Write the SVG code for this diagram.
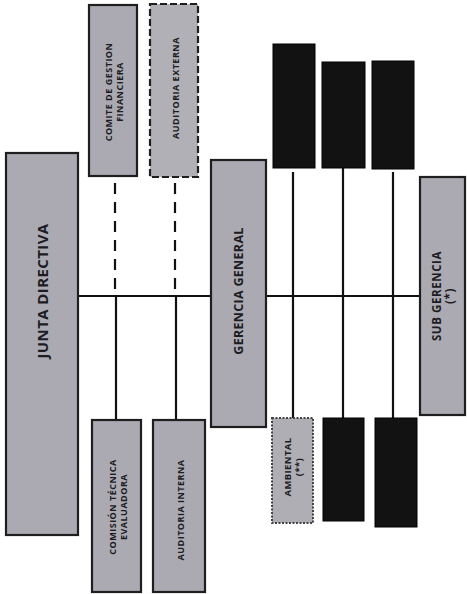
<svg xmlns="http://www.w3.org/2000/svg" width="467" height="594" viewBox="0 0 467 594">
<style>
.box{fill:#abaab2;stroke:#1e1e1e;stroke-width:2.2}
.dash{fill:#b1b0b7;stroke:#1e1e1e;stroke-width:2.2;stroke-dasharray:7 3}
.amb{fill:#afaeb5;stroke:#444;stroke-width:2;stroke-dasharray:2 1.5}
.blk{fill:#121212;stroke:#000;stroke-width:1}
.t{font-family:"Open Sans","DejaVu Sans",sans-serif;font-weight:bold;fill:#1c1c22;text-anchor:middle;dominant-baseline:central}
.ln{stroke:#111;stroke-width:2.2;fill:none}
.dl{stroke:#111;stroke-width:2.2;fill:none;stroke-dasharray:11 8}
</style>
<rect width="467" height="594" fill="#ffffff"/>
<g id="connectors">
<line class="ln" x1="78" y1="296" x2="420" y2="296"/>
<line class="dl" x1="115" y1="183" x2="115" y2="296"/>
<line class="dl" x1="175" y1="183" x2="175" y2="296"/>
<line class="ln" x1="116" y1="296" x2="116" y2="420"/>
<line class="ln" x1="176" y1="296" x2="176" y2="420"/>
<line class="ln" x1="293" y1="172" x2="293" y2="418"/>
<line class="ln" x1="343" y1="168" x2="343" y2="418"/>
<line class="ln" x1="393" y1="172" x2="393" y2="418"/>
</g>
<g id="junta">
<rect class="box" x="6" y="153" width="72" height="382"/>
<text class="t" font-size="15" letter-spacing="0.4" transform="rotate(-90 42 291)" x="42" y="291">JUNTA  DIRECTIVA</text>
</g>
<g id="comite">
<rect class="box" x="89" y="5" width="48" height="171"/>
<text class="t" font-size="9" letter-spacing="0.5" transform="rotate(-90 113 92)" x="113" y="92"><tspan x="113" dy="-5.5">COMITE DE GESTION</tspan><tspan x="113" dy="11">FINANCIERA</tspan></text>
</g>
<g id="auditoria-externa">
<rect class="dash" x="150" y="4" width="48" height="173"/>
<text class="t" font-size="9" letter-spacing="0.5" transform="rotate(-90 175 88)" x="175" y="88">AUDITORIA  EXTERNA</text>
</g>
<g id="comision">
<rect class="box" x="92" y="420" width="49" height="172"/>
<text class="t" font-size="9" letter-spacing="0.5" transform="rotate(-90 117 507)" x="117" y="507"><tspan x="117" dy="-5.5">COMISIÓN  TÉCNICA</tspan><tspan x="117" dy="11">EVALUADORA</tspan></text>
</g>
<g id="auditoria-interna">
<rect class="box" x="153" y="420" width="52" height="172"/>
<text class="t" font-size="9" letter-spacing="0.5" transform="rotate(-90 180 510)" x="180" y="510">AUDITORIA  INTERNA</text>
</g>
<g id="gerencia">
<rect class="box" x="211" y="160" width="55" height="267"/>
<text class="t" font-size="12.5" letter-spacing="0.3" transform="rotate(-90 238 291)" x="238" y="291">GERENCIA GENERAL</text>
</g>
<g id="subgerencia">
<rect class="box" x="420" y="177" width="45" height="238"/>
<text class="t" font-size="11.5" letter-spacing="0.6" transform="rotate(-90 442 296)" x="442" y="296"><tspan x="442" dy="-6">SUB GERENCIA</tspan><tspan x="442" dy="13">(*)</tspan></text>
</g>
<g id="top-black-1"><rect class="blk" x="273" y="44" width="42" height="124"/></g>
<g id="top-black-2"><rect class="blk" x="322" y="62" width="43" height="106"/></g>
<g id="top-black-3"><rect class="blk" x="372" y="61" width="42" height="108"/></g>
<g id="ambiental">
<rect class="amb" x="272" y="418" width="41" height="105"/>
<text class="t" font-size="9.5" letter-spacing="0.4" transform="rotate(-90 292 467)" x="292" y="467"><tspan x="292" dy="-5.5">AMBIENTAL</tspan><tspan x="292" dy="11">(**)</tspan></text>
</g>
<g id="bottom-black-2"><rect class="blk" x="323" y="418" width="41" height="103"/></g>
<g id="bottom-black-3"><rect class="blk" x="375" y="418" width="42" height="109"/></g>
</svg>
